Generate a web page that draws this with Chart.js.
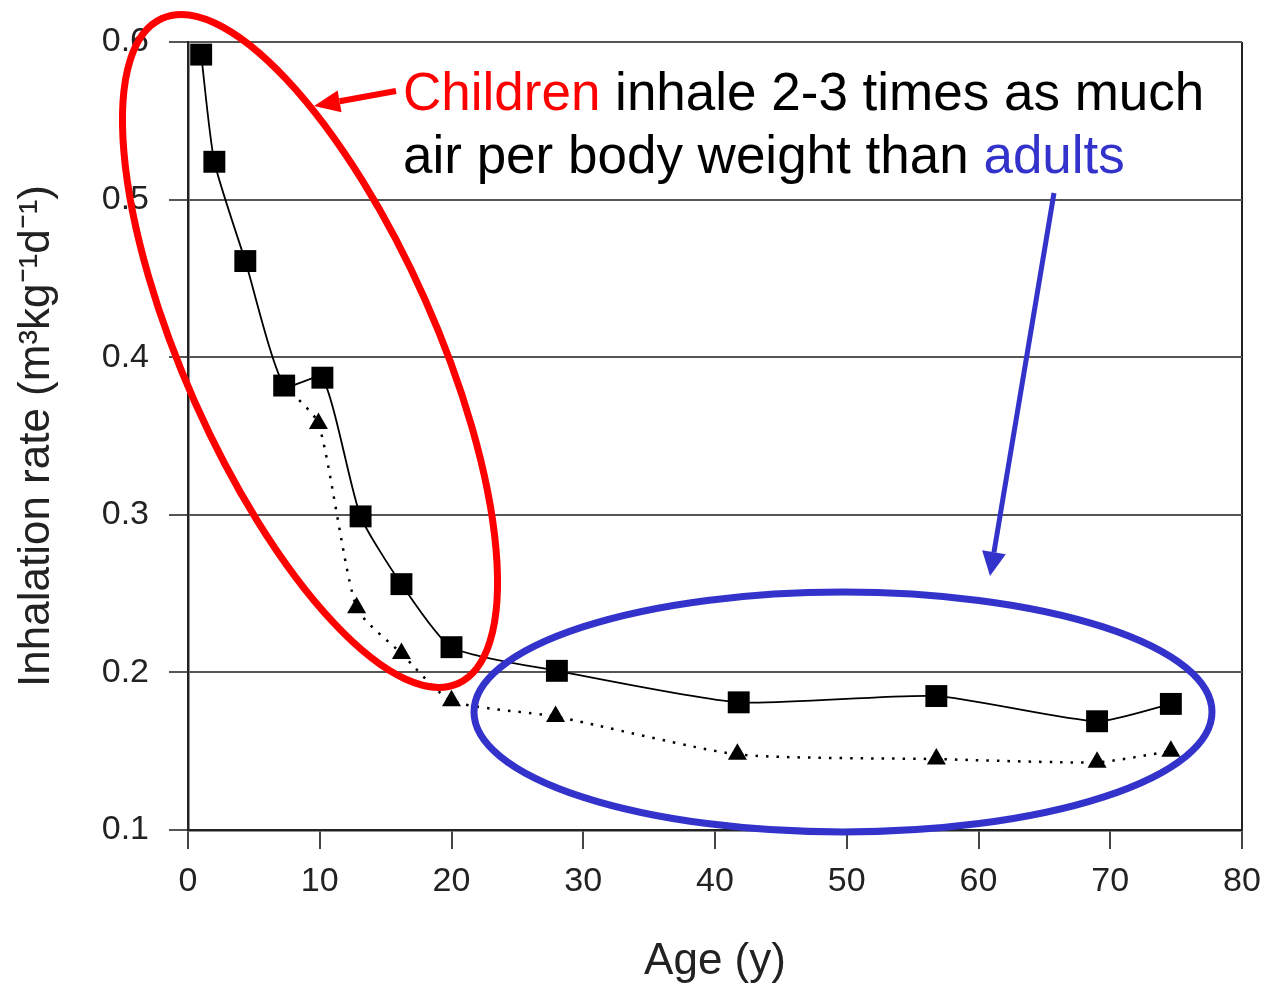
<!DOCTYPE html>
<html>
<head>
<meta charset="utf-8">
<script src="https://cdn.jsdelivr.net/npm/chart.js@4"></script>
<style>
  body { margin: 0; background: #fff; }
  #wrap { width: 1267px; height: 988px; }
</style>
</head>
<body>
<div id="wrap"><canvas id="chart" width="1267" height="988"></canvas></div>
<script>
// values
const ages = [1.0, 2.0, 4.35, 7.3, 10.2, 13.1, 16.2, 20.0, 28.0, 41.8, 56.8, 69.0, 74.6];
const rateSquares = [0.592, 0.524, 0.461, 0.382, 0.387, 0.299, 0.256, 0.216, 0.201, 0.181, 0.185, 0.169, 0.180];
const triAges = [7.3, 9.9, 12.8, 16.2, 20.0, 27.9, 41.7, 56.8, 69.0, 74.6];
const rateTriangles = [0.382, 0.358, 0.241, 0.212, 0.182, 0.172, 0.148, 0.145, 0.143, 0.150];
const xTicks = [0, 10, 20, 30, 40, 50, 60, 70, 80];
const yTicks = [0.1, 0.2, 0.3, 0.4, 0.5, 0.6];

const FONT = '"Liberation Sans", Arial, Helvetica, sans-serif';

function drawArrow(ctx, x1, y1, x2, y2, color, width, headLen, headW) {
    const a = Math.atan2(y2 - y1, x2 - x1);
    const bx = x2 - Math.cos(a) * headLen, by = y2 - Math.sin(a) * headLen;
    ctx.strokeStyle = color;
    ctx.fillStyle = color;
    ctx.lineWidth = width;
    ctx.beginPath();
    ctx.moveTo(x1, y1);
    ctx.lineTo(bx, by);
    ctx.stroke();
    ctx.beginPath();
    ctx.moveTo(x2, y2);
    ctx.lineTo(bx + Math.sin(a) * headW / 2, by - Math.cos(a) * headW / 2);
    ctx.lineTo(bx - Math.sin(a) * headW / 2, by + Math.cos(a) * headW / 2);
    ctx.closePath();
    ctx.fill();
}

// callouts drawn over the chart
const callouts = {
    id: 'callouts',
    afterDraw(chart) {
        const ctx = chart.ctx;
        ctx.save();
        ctx.lineWidth = 7;
        ctx.strokeStyle = '#ff0000';
        ctx.beginPath();
        ctx.ellipse(310, 351, 364, 126, 66 * Math.PI / 180, 0, Math.PI * 2);
        ctx.stroke();

        ctx.strokeStyle = '#3333cc';
        ctx.beginPath();
        ctx.ellipse(843, 712, 369, 120, 0, 0, Math.PI * 2);
        ctx.stroke();

        drawArrow(ctx, 396, 91, 314, 106, '#ff0000', 6, 26, 22);
        drawArrow(ctx, 1054, 193, 990, 576, '#3333cc', 5, 24, 24);

        ctx.font = '53px ' + FONT;
        ctx.textBaseline = 'alphabetic';
        ctx.textAlign = 'left';
        let x = 403;
        ctx.fillStyle = '#ff0000';
        ctx.fillText('Children', x, 110);
        x += ctx.measureText('Children').width;
        ctx.fillStyle = '#000';
        ctx.fillText(' inhale 2-3 times as much', x, 110);

        x = 403;
        ctx.fillText('air per body weight than ', x, 173);
        x += ctx.measureText('air per body weight than ').width;
        ctx.fillStyle = '#3333cc';
        ctx.fillText('adults', x, 173);
        ctx.restore();
    }
};

new Chart(document.getElementById('chart').getContext('2d'), {
    type: 'line',
    data: {
        datasets: [{
            data: ages.map((a, i) => ({ x: a, y: rateSquares[i] })),
            borderColor: '#000',
            borderWidth: 1.8,
            pointStyle: 'rect',
            pointRadius: 15.5,
            pointBackgroundColor: '#000',
            pointBorderWidth: 0,
            tension: 0.2
        }, {
            data: triAges.map((a, i) => ({ x: a, y: rateTriangles[i] })),
            borderColor: '#000',
            borderWidth: 2.5,
            borderDash: [2.5, 8],
            pointStyle: 'triangle',
            pointRadius: 11,
            pointBackgroundColor: '#000',
            pointBorderWidth: 0,
            tension: 0.2
        }]
    },
    options: {
        responsive: false,
        animation: false,
        layout: { padding: { top: 42, right: 25, left: 0, bottom: 0 } },
        plugins: { legend: { display: false }, tooltip: { enabled: false } },
        scales: {
            x: {
                type: 'linear',
                min: 0, max: 80,
                afterFit: s => { s.height = 158; s.paddingLeft = 0; s.paddingRight = 0; },
                afterBuildTicks: s => { s.ticks = xTicks.map(v => ({ value: v })); },
                ticks: { font: { size: 34, family: FONT }, color: '#222', padding: 12 },
                grid: {
                    color: c => c.tick && c.tick.value === 80 ? '#222' : 'rgba(0,0,0,0)',
                    tickColor: '#444',
                    lineWidth: 2,
                    tickLength: 19
                },
                border: { color: '#222', width: 2.5 },
                title: {
                    display: true, text: 'Age (y)', color: '#222',
                    font: { size: 44, family: FONT }, padding: { top: 0, bottom: 0 }
                }
            },
            y: {
                min: 0.1, max: 0.6,
                afterFit: s => { s.width = 188; s.paddingTop = 0; s.paddingBottom = 0; },
                afterBuildTicks: s => { s.ticks = yTicks.map(v => ({ value: v })); },
                ticks: {
                    font: { size: 34, family: FONT }, color: '#222', padding: 20,
                    callback: v => v.toFixed(1)
                },
                grid: { color: '#555', lineWidth: 2, tickLength: 19 },
                border: { color: '#222', width: 2.5 },
                title: {
                    display: true, text: 'Inhalation rate (m³kg⁻¹d⁻¹)', color: '#222',
                    font: { size: 44, family: FONT }, padding: { top: 10, bottom: 0 }
                }
            }
        }
    },
    plugins: [callouts]
});
</script>
</body>
</html>
